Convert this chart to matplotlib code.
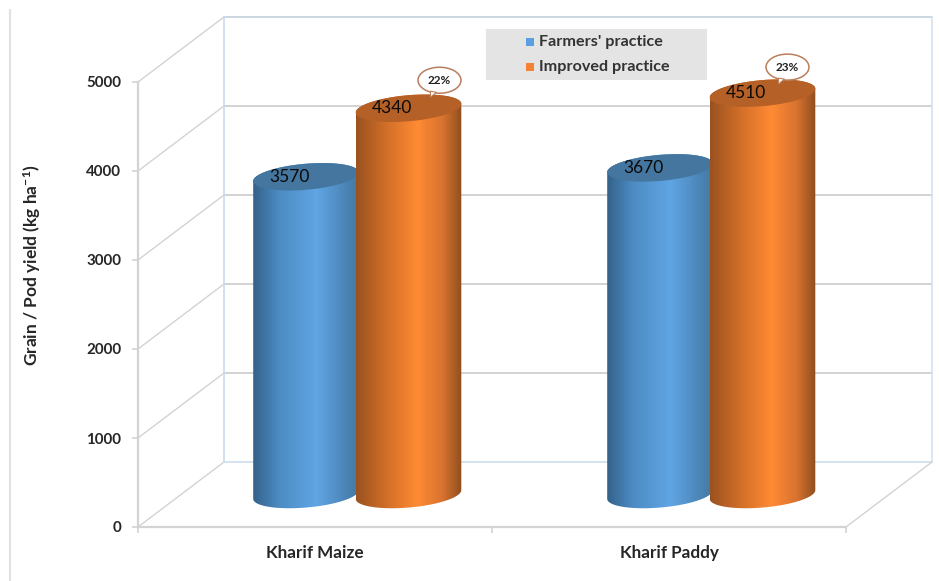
import numpy as np
import matplotlib
matplotlib.use("Agg")
import matplotlib.pyplot as plt
from matplotlib.colors import LinearSegmentedColormap
from matplotlib.lines import Line2D
from matplotlib.patches import Ellipse, Polygon, Rectangle

plt.rcParams['font.family'] = ['Lato', 'DejaVu Sans']
plt.rcParams['mathtext.default'] = 'regular'

crops = ["Kharif Maize", "Kharif Paddy"]
farmers = [3570, 3670]
improved = [4340, 4510]
gains = ["22%", "23%"]
series_names = ["Farmers' practice", "Improved practice"]
y_ticks = [0, 1000, 2000, 3000, 4000, 5000]

W, H = 939, 581
LEFT, RIGHT, TOP, BOTTOM = 138, 846, 82, 527
X_SCALE = (RIGHT - LEFT) / 2      # pixels per category
Y_SCALE = (BOTTOM - TOP) / 5000   # pixels per kg/ha
DEPTH_X, DEPTH_Y = 86, 65         # oblique offset of the back wall, pixels
BAR_W = 106
TILT = np.radians(5)
MINOR = 13

GREY = "#d3d3d3"
WALL_BLUE = "#d5e2f0"

blue_cmap = LinearSegmentedColormap.from_list("blue_cyl", [
    (0, "#33628a"), (0.25, "#4d8cc4"), (0.6, "#60a5e4"), (0.85, "#4d88bb"), (1, "#44789f")])
orange_cmap = LinearSegmentedColormap.from_list("orange_cyl", [
    (0, "#9a5220"), (0.3, "#d47029"), (0.58, "#ff8a33"), (0.82, "#d87330"), (1, "#8f4e1e")])


def shift(x, y, dx, dy):
    # move a data point by an offset given in pixels (dy is upwards)
    return x + dx / X_SCALE, y + dy / Y_SCALE


def ellipse_points(x, y, t):
    ex = BAR_W / 2 * np.cos(t) * np.cos(TILT) - MINOR * np.sin(t) * np.sin(TILT)
    ey = BAR_W / 2 * np.cos(t) * np.sin(TILT) + MINOR * np.sin(t) * np.cos(TILT)
    return shift(x, y, ex, ey)


def cylinder(ax, x, value, cmap, top_color, z):
    # cylinders stand halfway between the front edge and the back wall
    cx, base = shift(x, 0, DEPTH_X / 2, DEPTH_Y / 2)
    _, top = shift(x, value, 0, DEPTH_Y / 2)
    lower = ellipse_points(cx, base, np.linspace(np.pi, 2 * np.pi, 60))
    upper = ellipse_points(cx, top, np.linspace(0, np.pi, 60))
    outline = np.column_stack([np.r_[lower[0], upper[0]], np.r_[lower[1], upper[1]]])
    body = Polygon(outline, closed=True, facecolor="none", edgecolor="none",
                   transform=ax.transData)
    ax.add_patch(body)
    half = BAR_W / 2 / X_SCALE
    im = ax.imshow(np.linspace(0, 1, 256).reshape(1, -1), cmap=cmap, aspect="auto",
                   extent=(cx - half, cx + half, base - 300, top + 300), zorder=z)
    im.set_clip_path(body)
    im.set_clip_box(ax.figure.bbox)
    cap = ellipse_points(cx, top, np.linspace(0, 2 * np.pi, 120))
    ax.add_patch(Polygon(np.column_stack(cap), closed=True, facecolor=top_color,
                         edgecolor="none", zorder=z + 0.1, clip_on=False))
    lx, ly = shift(cx, top, -17, 0)
    ax.text(lx, ly, f"{value}", ha="center", va="center", fontsize=12.5,
            color="#0a0a0a", zorder=z + 0.2)
    return cx, top


fig = plt.figure(figsize=(W / 100, H / 100), dpi=100)
ax = fig.add_axes([LEFT / W, 1 - BOTTOM / H, (RIGHT - LEFT) / W, (BOTTOM - TOP) / H])
ax.set_xlim(-0.5, 1.5)
ax.set_ylim(0, 5000)

# frame rule down the left of the figure
fig.add_artist(Line2D([10 / W, 10 / W], [0, 1 - 10 / H], color="#e2e2e2", lw=1.5,
                      transform=fig.transFigure))

# back wall, side wall and floor
for val in y_ticks:
    x0, y0 = -0.5, val
    x1, y1 = shift(x0, y0, DEPTH_X, DEPTH_Y)
    x2, _ = shift(1.5, y0, DEPTH_X, DEPTH_Y)
    ax.plot([x0, x1], [y0, y1], color=GREY, lw=1, clip_on=False, zorder=1)
    wall_color = GREY
    if val == 0:
        wall_color = WALL_BLUE
    elif val == 5000:
        wall_color = "#ccd6e2"
    ax.plot([x1, x2], [y1, y1], color=wall_color, lw=1.4, clip_on=False, zorder=1)
bx, by0 = shift(-0.5, 0, DEPTH_X, DEPTH_Y)
_, by1 = shift(-0.5, 5000, DEPTH_X, DEPTH_Y)
rx, _ = shift(1.5, 0, DEPTH_X, DEPTH_Y)
ax.plot([bx, bx], [by0, by1], color="#c9dcf0", lw=1.2, clip_on=False, zorder=1)
ax.plot([rx, rx], [by0, by1], color=WALL_BLUE, lw=1.2, clip_on=False, zorder=1)
ax.plot([1.5, rx], [0, by0], color=GREY, lw=1, clip_on=False, zorder=1)

ax.patch.set_alpha(0)
for side in ("top", "right"):
    ax.spines[side].set_visible(False)
for side in ("left", "bottom"):
    ax.spines[side].set_color(GREY)
    ax.spines[side].set_linewidth(1.6)
    ax.spines[side].set_zorder(1.5)

positions = np.arange(len(crops))
for i, x in enumerate(positions):
    cylinder(ax, x - 52 / X_SCALE, farmers[i], blue_cmap, "#44769f", 3)
    cx, top = cylinder(ax, x + 50.5 / X_SCALE, improved[i], orange_cmap, "#b56026", 4)
    # callout with the yield gain, pinned above the orange cylinder
    dx = 31 if i == 0 else 25
    dy = 28 if i == 0 else 26
    ex, ey = shift(cx, top, dx, dy)
    tail = [shift(cx, top, dx - 9, dy - 11), shift(cx, top, dx - 9, dy - 17),
            shift(cx, top, dx - 3, dy - 12)]
    ax.add_patch(Ellipse((ex, ey), 43 / X_SCALE, 26 / Y_SCALE, facecolor="white",
                         edgecolor="#b97f5c", lw=1.1, clip_on=False, zorder=5))
    ax.add_patch(Polygon(tail, closed=True, facecolor="white", edgecolor="#b97f5c",
                         lw=0.8, clip_on=False, zorder=5.1))
    ax.text(ex, ey, gains[i], ha="center", va="center", fontsize=8.5, fontweight="bold",
            color="#222222", zorder=6)

ax.set_xlim(-0.5, 1.5)
ax.set_ylim(0, 5000)

ax.set_yticks(y_ticks)
ax.set_xticks(positions)
ax.set_xticklabels(crops, fontsize=12.3, fontweight="bold", color="#262626")
ax.set_xticks([-0.5, 0.5, 1.5], minor=True)
ax.tick_params(axis="x", which="major", length=0, pad=13)
ax.tick_params(axis="x", which="minor", length=4, color=GREY, width=1.2)
ax.tick_params(axis="y", length=4, color=GREY, width=1.2, pad=8, labelsize=10.9,
               labelcolor="#262626")
for lab in ax.get_yticklabels():
    lab.set_fontweight("bold")

fig.text(32 / W, 1 - 265 / H, r"Grain / Pod yield (kg ha$^{-1}$)", rotation=90,
         ha="center", va="center", fontsize=12.5, fontweight="bold", color="#262626")

# legend panel
fig.patches.append(Rectangle((486 / W, 1 - 80 / H), 221 / W, 51 / H, facecolor="#e4e4e4",
                             edgecolor="none", transform=fig.transFigure, zorder=7, figure=fig))
for name, color, py in zip(series_names, ["#5b9fdf", "#f58232"], [42, 67]):
    fig.patches.append(Rectangle((526 / W, 1 - (py + 4) / H), 8 / W, 8 / H, facecolor=color,
                                 edgecolor="none", transform=fig.transFigure, zorder=8, figure=fig))
    fig.text(539 / W, 1 - py / H, name, ha="left", va="center", fontsize=11.6,
             fontweight="bold", color="#333333", zorder=8)

fig.savefig("out.png", dpi=100)
